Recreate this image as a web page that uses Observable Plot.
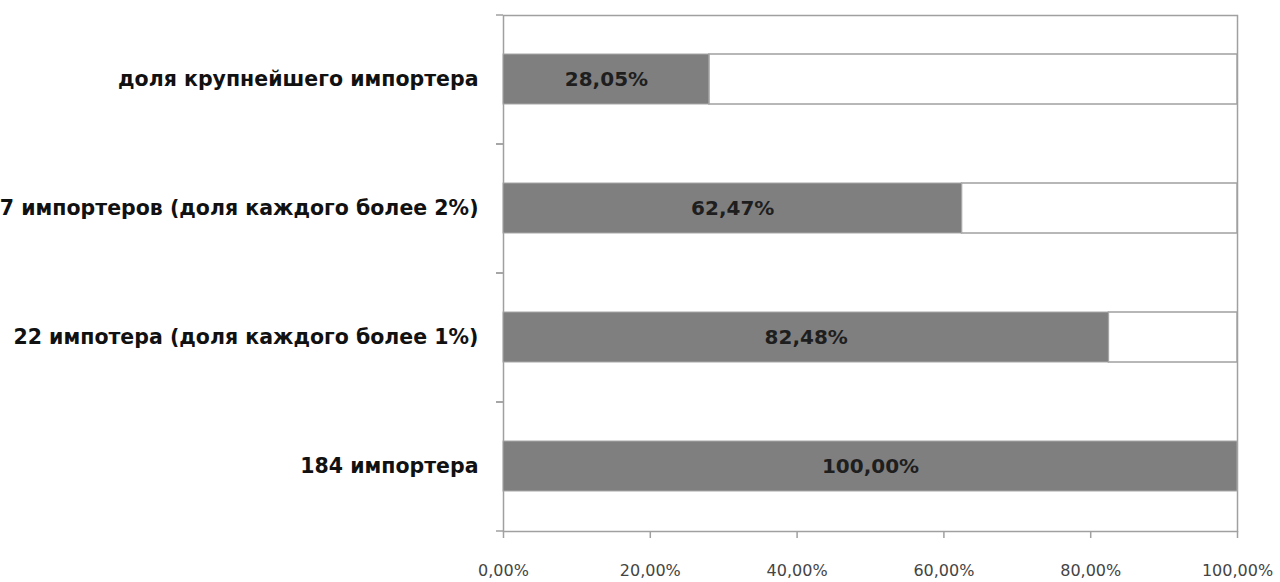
<!DOCTYPE html>
<html>
<head>
<meta charset="utf-8">
<script src="https://cdn.jsdelivr.net/npm/d3@7"></script>
<script src="https://cdn.jsdelivr.net/npm/@observablehq/plot@0.6"></script>
<style>
  html, body { margin: 0; padding: 0; background: #fff; }
  svg { display: block; }
</style>
</head>
<body>
<div id="chart"></div>
<script>
const categories = [
  "доля крупнейшего импортера",
  "7 импортеров (доля каждого более 2%)",
  "22 импотера (доля каждого более 1%)",
  "184 импортера"
];
const shares = [28.05, 62.47, 82.48, 100.00];
const xTicks = [0, 20, 40, 60, 80, 100];

const rows = categories.map((c, i) => ({category: c, value: shares[i]}));
const fmt = v => v.toFixed(2).replace(".", ",") + "%";

const chart = Plot.plot({
  width: 1280,
  height: 582,
  marginLeft: 503,
  marginRight: 43,
  marginTop: 15,
  marginBottom: 51,
  style: {fontFamily: "'DejaVu Sans', sans-serif", background: "#fff"},
  x: {domain: [0, 100], ticks: xTicks},
  y: {domain: categories, paddingInner: 0.61, paddingOuter: 0.305},
  marks: [
    Plot.frame({stroke: "#a0a0a0", strokeWidth: 1.5}),
    Plot.barX(rows, {y: "category", x1: "value", x2: 100, fill: "#fff", stroke: "#a0a0a0", strokeWidth: 1.5}),
    Plot.barX(rows, {y: "category", x1: 0, x2: "value", fill: "#7f7f7f", stroke: "#a8a8a8", strokeWidth: 1}),
    Plot.text(rows, {y: "category", x: d => d.value / 2, text: d => fmt(d.value), fill: "#1e1e1e", fontSize: 20, fontWeight: "bold"}),
    Plot.axisY({tickSize: 0, tickPadding: 25, fontSize: 20.5, fontWeight: "bold", fill: "#111", label: null}),
    Plot.axisY({tickSize: 7, dy: -64.5, text: null, stroke: "#a0a0a0", strokeWidth: 1.5, label: null}),
    Plot.axisY({tickSize: 7, dy: 64.5, text: null, stroke: "#a0a0a0", strokeWidth: 1.5, label: null}),
    Plot.axisX({ticks: xTicks, tickSize: 7, tickPadding: 26, tickFormat: fmt, fontSize: 16, fill: "#444", stroke: "#a0a0a0", strokeWidth: 1.5, label: null})
  ]
});
document.getElementById("chart").appendChild(chart);
</script>
</body>
</html>
